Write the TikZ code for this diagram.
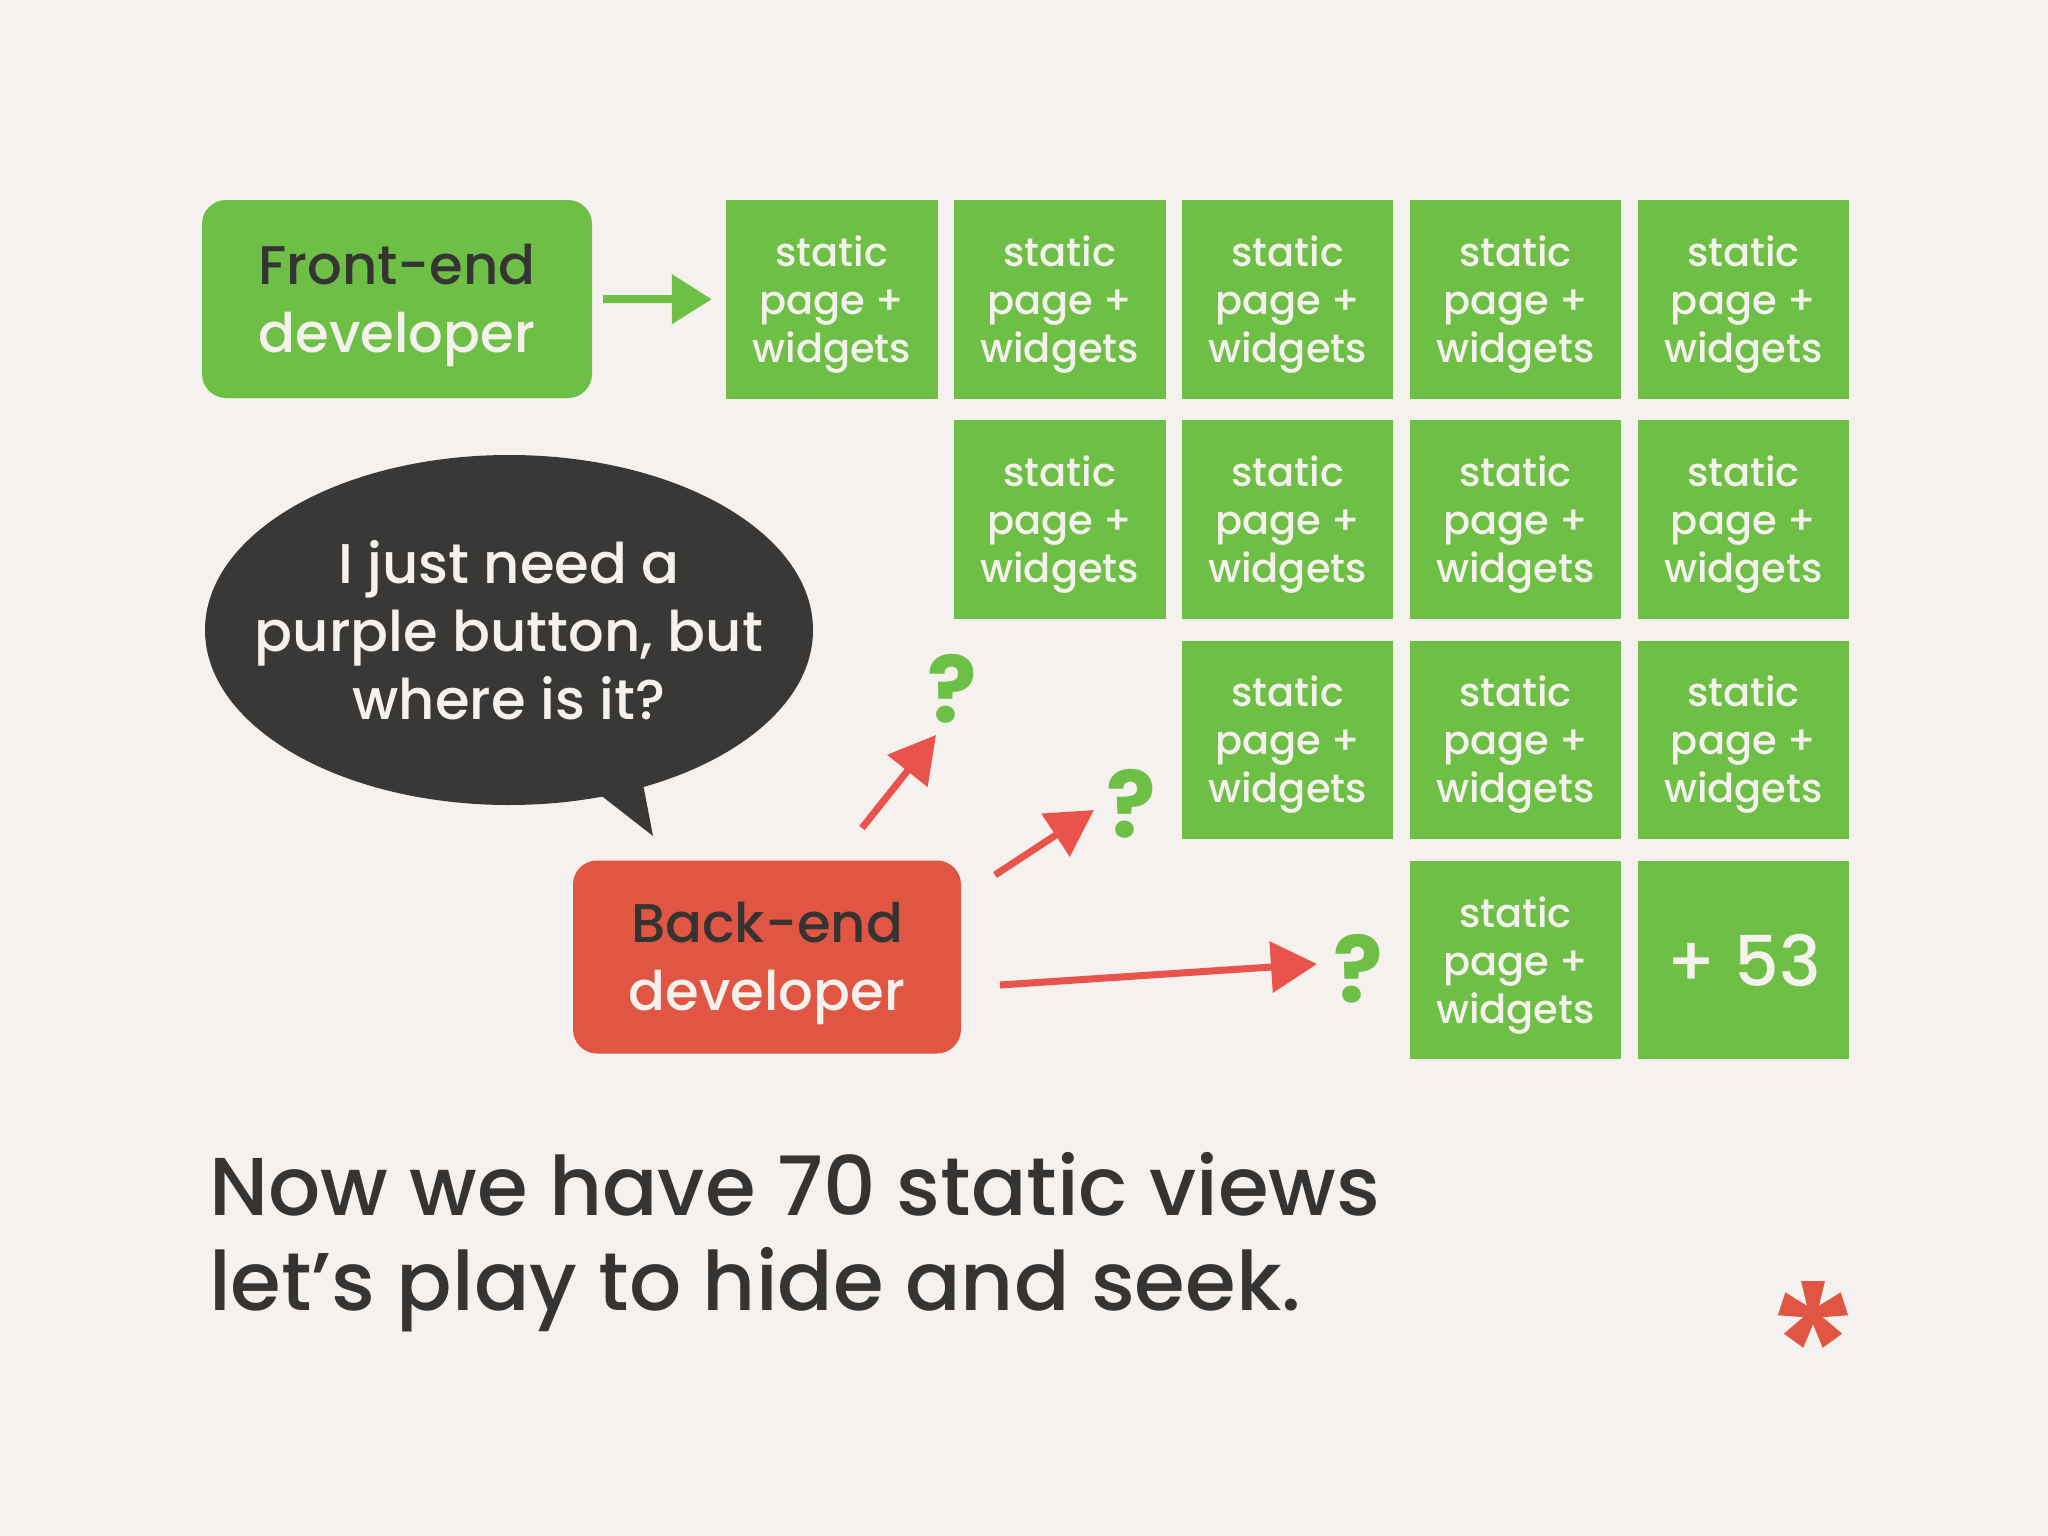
\documentclass[tikz,border=0pt]{standalone}
\usepackage{fontspec}
\setmainfont{Poppins}[UprightFont=* Medium, BoldFont=* Bold]
\usetikzlibrary{arrows.meta,shapes.geometric}
\definecolor{bg}{HTML}{F4F1EE}
\definecolor{grn}{HTML}{6DBF45}
\definecolor{rbox}{HTML}{E05642}
\definecolor{rarr}{HTML}{E8534B}
\definecolor{dark}{HTML}{3A3837}
\definecolor{txtd}{HTML}{353433}
\definecolor{txtw}{HTML}{F5F2EE}
\begin{document}
\begin{tikzpicture}[x=1pt,y=-1pt,
  tile/.style={fill=grn, minimum width=211.6pt, minimum height=198.5pt, inner sep=0pt},
  tiletext/.style={text=txtw, align=center, inner sep=0pt, yshift=-5pt, font=\fontsize{40}{48}\selectfont},
  devbox/.style={rounded corners=24pt, inner sep=0pt},
  devtext/.style={align=center, inner sep=0pt, yshift=-6pt, font=\fontsize{54.5}{68}\selectfont},
  qmark/.style={text=grn, anchor=base, inner sep=0pt, font=\fontsize{92}{92}\selectfont\bfseries},
  redarrow/.style={draw=rarr, line width=7pt, -{Triangle[length=46pt,width=50pt]}},
  greenarrow/.style={draw=grn, line width=8pt, -{Triangle[length=40pt,width=48pt]}},
  caption/.style={anchor=base west, inner sep=0pt, text=txtd, font=\fontsize{82}{95}\selectfont}
]
\fill[bg] (0,0) rectangle (2048,1536);
\useasboundingbox (0,0) rectangle (2048,1536);

% tiles
\foreach \r/\c in {0/0,0/1,0/2,0/3,0/4,1/1,1/2,1/3,1/4,2/2,2/3,2/4,3/3}
  \node[tile, label={[tiletext]center:{static\\page +\\widgets}}] (t-\r-\c)
    at (831.8+227.9*\c, 299.3+220.3*\r) {};
\node[tile, text=txtw, font=\fontsize{70}{80}\selectfont] (t-3-4) at (831.8+227.9*4, 299.3+220.3*3) {+ 53};

% front-end
\node[devbox, fill=grn, minimum width=390pt, minimum height=198pt,
  label={[devtext]center:{\textcolor{txtd}{Front-end}\\\textcolor{txtw}{developer}}}] (fe) at (397,299) {};
\draw[greenarrow, shorten <=11pt, shorten >=14pt] (fe.east) -- (t-0-0.west);

% speech bubble
\fill[dark] (594,790) -- (653,836) -- (643,784) -- cycle;
\fill[dark] (509,630) ellipse [x radius=304, y radius=175];
\node[text=txtw, align=center, inner sep=0pt, font=\fontsize{56}{68}\selectfont] (bubble) at (509,630)
  {I just need a\\purple button, but\\where is it?};

% back-end
\node[devbox, fill=rbox, minimum width=388pt, minimum height=193pt,
  label={[devtext]center:{\textcolor{txtd}{Back-end}\\\textcolor{txtw}{developer}}}] (be) at (767,957) {};

% question marks
\node[qmark] (q1) at (952,722) {?};
\node[qmark] (q2) at (1131,837) {?};
\node[qmark] (q3) at (1358,1002) {?};

% red arrows
\coordinate (a1s) at (862,828);
\coordinate (a1e) at (936,735);
\coordinate (a2s) at (995,875);
\coordinate (a2e) at (1094,810);
\coordinate (a3s) at (1000,985);
\coordinate (a3e) at (1317,964);
\draw[redarrow] (a1s) -- (a1e);
\draw[redarrow] (a2s) -- (a2e);
\draw[redarrow] (a3s) -- (a3e);

% caption
\node[caption] (cap1) at (209,1215) {Now we have 70 static views};
\node[caption] (cap2) at (209,1310) {let’s play to hide and seek.};

% asterisk
\foreach \a in {90,162,234,306,18}
  \fill[rbox, shift={(1813,1314)}, rotate=\a] (0,-4) -- (33,-12) -- (33,12) -- (0,4) -- cycle;
\end{tikzpicture}
\end{document}
